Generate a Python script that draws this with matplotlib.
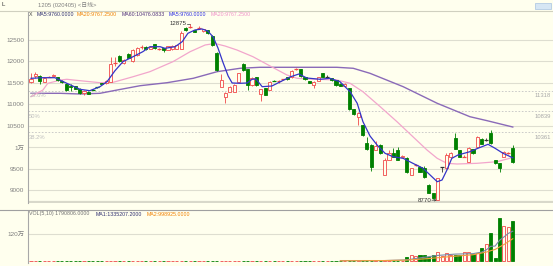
import matplotlib
matplotlib.use("Agg")
import matplotlib.pyplot as plt
import numpy as np
from matplotlib.lines import Line2D
from matplotlib.patches import Rectangle

plt.rcParams["font.family"] = ["Liberation Sans", "Noto Sans CJK SC"]

W, H = 553, 266
BG = "#FFFFEE"
RED = "#F04848"
GREEN = "#008000"
DOJI = "#333333"
GRID = "#DEDED0"

# --- daily candles ---
opens = [
    11520, 11660, 11660, 11530, 11640, 11670, 11640, 11545, 11480, 11420,
    11430, 11360, 11260, 11300, 11345, 11405, 11495, 11490, 11530, 11960,
    12135, 11965, 12175, 12000, 12150, 12325, 12345, 12300, 12400, 12285,
    12310, 12270, 12280, 12300, 12285, 12770, 12800, 12730, 12770, 12700,
    12730, 12600, 12190, 11415, 11180, 11300, 11300, 11530, 11940, 11820,
    11455, 11630, 11245, 11375, 11340, 11555, 11530, 11580, 11630, 11630,
    11815, 11820, 11630, 11545, 11450, 11550, 11725, 11650, 11610, 11570,
    11480, 11440, 11375, 10890, 10700, 10520, 10100, 10060, 9940, 10060,
    9360, 9710, 9865, 9940, 9780, 9750, 9360, 9590, 9555, 9515,
    9130, 8935, 8780, 9540, 9515, 9785, 10230, 9940, 9780, 9670,
    9965, 10015, 10200, 10170, 10345, 9710, 9630, 9785, 9860, 9980]
closes = [
    11600, 11720, 11550, 11610, 11650, 11690, 11560, 11520, 11340, 11400,
    11370, 11270, 11320, 11250, 11335, 11395, 11480, 11545, 11935, 11970,
    12020, 12035, 12090, 12270, 12310, 12335, 12290, 12340, 12310, 12295,
    12260, 12360, 12370, 12380, 12655, 12730, 12810, 12695, 12780, 12750,
    12655, 12385, 11800, 11570, 11260, 11415, 11455, 11725, 11800, 11455,
    11610, 11455, 11350, 11220, 11530, 11545, 11540, 11590, 11585, 11790,
    11825, 11665, 11585, 11500, 11530, 11640, 11650, 11650, 11560, 11455,
    11430, 11480, 10890, 10780, 10810, 10290, 9960, 9550, 10035, 9865,
    9710, 9865, 9785, 9710, 9810, 9440, 9520, 9600, 9440, 9320,
    8950, 8820, 9290, 9540, 9825, 9880, 9970, 9785, 9790, 9980,
    9865, 10250, 10080, 10170, 10100, 9630, 9515, 9900, 9870, 9670]
highs = [
    11730, 11760, 11680, 11630, 11670, 11710, 11650, 11560, 11500, 11470,
    11440, 11380, 11340, 11310, 11350, 11410, 11500, 11560, 12110, 12100,
    12150, 12060, 12190, 12290, 12330, 12380, 12360, 12350, 12410, 12320,
    12320, 12370, 12380, 12390, 12700, 12800, 12875, 12740, 12820, 12760,
    12740, 12620, 12220, 11710, 11280, 11430, 11470, 11740, 11960, 11830,
    11630, 11640, 11370, 11390, 11550, 11580, 11560, 11600, 11640, 11800,
    11850, 11830, 11640, 11550, 11540, 11650, 11740, 11680, 11620, 11580,
    11490, 11490, 11390, 10900, 10830, 10530, 10250, 10070, 10140, 10070,
    9760, 9940, 9980, 10010, 9820, 9790, 9530, 9610, 9565, 9570,
    9140, 8940, 9300, 9540, 9870, 9890, 10330, 9950, 9830, 10000,
    9975, 10270, 10210, 10230, 10400, 9720, 9640, 9920, 9900, 10060]
lows = [
    11500, 11620, 11480, 11520, 11630, 11660, 11540, 11510, 11320, 11320,
    11350, 11250, 11220, 11240, 11330, 11390, 11475, 11480, 11520, 11900,
    11980, 11950, 12080, 11980, 12130, 12300, 12270, 12290, 12300, 12270,
    12220, 12260, 12270, 12290, 12280, 12720, 12780, 12680, 12760, 12690,
    12640, 12360, 11780, 11400, 11040, 11280, 11290, 11520, 11790, 11340,
    11440, 11440, 11090, 11210, 11330, 11540, 11500, 11570, 11575, 11620,
    11800, 11650, 11570, 11490, 11390, 11540, 11640, 11630, 11550, 11440,
    11420, 11430, 10870, 10760, 10530, 10270, 9940, 9450, 9930, 9850,
    9350, 9700, 9770, 9700, 9770, 9400, 9350, 9580, 9430, 9300,
    8940, 8810, 8770, 9420, 9505, 9775, 9960, 9770, 9770, 9660,
    9855, 10005, 10070, 10150, 10090, 9620, 9440, 9770, 9850, 9650]

# volume in 万
volumes = [
    1.5, 1.5, 1.5, 1.5, 1.5, 1.5, 1.5, 1.5, 1.5, 1.5,
    1.5, 1.5, 1.5, 1.5, 1.5, 1.5, 1.5, 1.5, 1.5, 1.5,
    1.5, 1.5, 1.5, 1.5, 1.5, 1.5, 1.5, 1.5, 1.5, 1.5,
    1.5, 1.5, 1.5, 1.5, 1.5, 1.5, 1.5, 1.5, 1.5, 1.5,
    1.5, 1.5, 1.5, 1.5, 1.5, 1.5, 1.5, 1.5, 1.5, 1.5,
    1.5, 1.5, 1.5, 1.5, 1.5, 1.5, 1.5, 1.5, 1.5, 1.5,
    1.5, 1.5, 1.5, 1.5, 1.5, 1.5, 1.5, 1.5, 1.5, 1.5,
    1.5, 1.5, 1.5, 1.5, 3.0, 1.5, 1.5, 1.5, 3.0, 1.5,
    3.0, 1.5, 1.5, 1.5, 1.5, 18, 29, 21, 25, 25,
    16, 25, 41, 23, 35, 29, 29, 29, 39, 39,
    32, 35, 57, 75, 125, 13, 195, 158, 155, 179]

# moving averages read at sample candles
ma5_idx = [0, 2.7, 5.4, 8.1, 11.1, 13.3, 15.6, 17.2, 19, 20.8, 23.1, 25.3, 26.9,
           29.2, 30.3, 32.6, 34.2, 35.5, 37.1, 38.7, 40, 41.2, 42.3, 43.4, 44.6,
           45.5, 47.3, 48.9, 50, 50.9, 52.3, 54.5, 56.3, 58.6, 60.6, 62.4, 65.4,
           67.6, 69.9, 72.2, 73.8, 75.1, 76.7, 78.3, 80.1, 81.9, 84.2, 86.4,
           88.7, 90.3, 91.9, 93, 94.1, 95.2, 96.6, 99.3, 101.1, 103.4, 105,
           106.8, 109]
ma5_val = [11609, 11623, 11623, 11493, 11353, 11321, 11414, 11530, 11786, 11995,
           12112, 12228, 12344, 12344, 12307, 12344, 12460, 12656, 12733, 12756,
           12709, 12570, 12314, 11988, 11663, 11500, 11493, 11500, 11586, 11593,
           11414, 11430, 11523, 11640, 11709, 11616, 11586, 11609, 11530, 11297,
           11028, 10600, 10267, 10058, 9865, 9786, 9748, 9632, 9516, 9360, 9204,
           9244, 9476, 9748, 9825, 9902, 9981, 10074, 9981, 9865, 9760]
ma20_idx = [0, 2.7, 3.8, 6.8, 8.1, 11.8, 15.6, 18.6, 23.1, 26.9, 32.1, 36, 39.4,
            41.6, 43.9, 46.6, 50.2, 54.1, 57.9, 60.2, 63.1, 69.2, 72.2, 75.1, 79,
            82.8, 86.4, 89.6, 91.9, 94.1, 96.4, 100.9, 105.4, 109]
ma20_val = [11181, 11337, 11493, 11570, 11586, 11546, 11507, 11516, 11646, 11763,
            11995, 12228, 12384, 12419, 12360, 12267, 12112, 11895, 11686, 11609,
            11593, 11570, 11493, 11297, 10949, 10600, 10251, 9941, 9748, 9632,
            9616, 9632, 9669, 9767]
ma60_idx = [0, 6.6, 11.1, 15.6, 19.5, 24.7, 30.8, 36.7, 42.1, 47.3, 51.8, 60.9,
            69.2, 72.9, 76.7, 84.2, 91.9, 99.3, 103.2, 109]
ma60_val = [11260, 11260, 11244, 11260, 11337, 11437, 11507, 11609, 11763, 11842,
            11865, 11865, 11865, 11842, 11725, 11414, 11028, 10716, 10623, 10476]

vma1_idx = [70, 80, 85, 88, 92, 96, 100, 102, 103, 104, 105, 106, 107, 108, 109]
vma1_val = [2, 2, 5, 14, 25, 31, 33, 40, 50, 66, 67, 93, 108, 124, 134]
vma2_idx = [70, 80, 85, 90, 95, 100, 103, 105, 107, 109]
vma2_val = [1, 2, 4, 11, 20, 28, 40, 52, 74, 100]

price_ticks = [9000, 9500, 10000, 10500, 11000, 11500, 12000, 12500]
price_labels = ["9000", "9500", "1万", "10500", "11000", "11500", "12000", "12500"]
fib_levels = [11318, 10839, 10361]
fib_pct = ["23.6%", "50%", "38.2%"]


def px_axes(fig, x0, y0, x1, y1):
    return fig.add_axes([x0 / W, 1 - y1 / H, (x1 - x0) / W, (y1 - y0) / H])


def style(ax):
    ax.set_facecolor(BG)
    for s in ("top", "right", "bottom"):
        ax.spines[s].set_visible(False)
    ax.spines["left"].set_color("#A8A8A8")
    ax.spines["left"].set_linewidth(0.8)
    ax.set_xticks([])
    ax.tick_params(axis="y", length=0, pad=2.5, labelsize=4.6, labelcolor="#808080")


fig = plt.figure(figsize=(W / 100, H / 100), dpi=100, facecolor=BG)

# ---------------- price panel ----------------
ax = px_axes(fig, 28, 12, 553, 203)
style(ax)
n = len(opens)
ax.set_xlim(-0.68, 118.1)
ax.set_ylim(8709, 13151)
ax.set_yticks(price_ticks)
ax.set_yticklabels(price_labels)
for v in price_ticks:
    ax.axhline(v, color=GRID, lw=0.8, zorder=0)
ax.axhline(8735, color="#D8D8CA", lw=1.6, zorder=0)
for v, p in zip(fib_levels, fib_pct):
    ax.axhline(v, color="#C4C4C4", lw=0.6, ls=(0, (2, 2)), zorder=0)
    ax.text(-0.4, v - 60, p, fontsize=4.2, color="#BEBEBE", va="top", ha="left")
    ax.text(117.7, v - 60, str(v), fontsize=4.2, color="#A8A8A8", va="top", ha="right")

w = 0.7
for i in range(n):
    o, c, h, l = opens[i], closes[i], highs[i], lows[i]
    col = DOJI if o == c else (RED if c > o else GREEN)
    top, bot = max(o, c), min(o, c)
    if top - bot < 15:
        ax.vlines(i, l, h, color=col, lw=0.6, zorder=3)
        ax.hlines((o + c) / 2, i - 0.45, i + 0.45, color=col, lw=0.9, zorder=3)
    elif c > o:
        ax.vlines(i, top, h, color=col, lw=0.6, zorder=3)
        ax.vlines(i, l, bot, color=col, lw=0.6, zorder=3)
        ax.add_patch(Rectangle((i - w / 2, bot), w, top - bot, facecolor=BG,
                               edgecolor=col, lw=0.6, zorder=3))
    else:
        ax.vlines(i, l, h, color=col, lw=0.6, zorder=3)
        ax.add_patch(Rectangle((i - w / 2, bot), w, top - bot, facecolor=col,
                               edgecolor=col, lw=0.6, zorder=3))

ax.plot(ma60_idx, ma60_val, color="#8A6AB8", lw=1.0, zorder=2)
ax.plot(ma20_idx, ma20_val, color="#F2A6CC", lw=0.9, zorder=2)
ax.plot(ma5_idx, ma5_val, color="#3434C8", lw=0.9, zorder=4)

ax.text(35.2, 12875, "12875", fontsize=4.4, color="#333333", ha="right", va="center")
ax.plot([35.2, 35.9], [12875, 12875], color="#333333", lw=0.5)
ax.text(90.6, 8775, "8770", fontsize=4.4, color="#333333", ha="right", va="center")
ax.annotate("", xy=(91.8, 8775), xytext=(90.7, 8775),
            arrowprops=dict(arrowstyle="->", lw=0.5, color="#333333",
                            shrinkA=0, shrinkB=0, mutation_scale=3))

# ---------------- volume panel ----------------
vx = px_axes(fig, 28, 211, 553, 263)
style(vx)
vx.set_xlim(-0.68, 118.1)
vx.set_ylim(-9, 224.7)
vx.set_yticks([120])
vx.set_yticklabels(["120万"])
vx.axhline(120, color=GRID, lw=0.8, zorder=0)
for i in range(n):
    o, c = opens[i], closes[i]
    up = c >= o
    col = RED if up else GREEN
    vx.add_patch(Rectangle((i - w / 2, 0), w, volumes[i],
                           facecolor=BG if up else col, edgecolor=col, lw=0.6, zorder=3))
vx.plot(vma1_idx, vma1_val, color="#7A8AA8", lw=0.8, zorder=4)
vx.plot(vma2_idx, vma2_val, color="#F0A040", lw=0.8, zorder=4)

# ---------------- frame, header texts ----------------
fig.add_artist(Line2D([0, 1], [1 - 11 / H, 1 - 11 / H], color="#D0D0C0", lw=0.8))
fig.add_artist(Line2D([0, 1], [1 - 210 / H, 1 - 210 / H], color="#A0A0A0", lw=0.8))
fig.add_artist(Rectangle((535 / W, 1 - 9 / H), 16 / W, 6 / H, transform=fig.transFigure,
                         facecolor="#D6E6F4", edgecolor="#A8C4E0", lw=0.5))


def ftext(x, y, s, color, size=3.8):
    fig.text(x / W, 1 - y / H, s, color=color, fontsize=size, va="center", ha="left")


ftext(2, 5, "L", "#333333", 4.4)
ftext(38, 5, "1205 (020405) <日线>", "#808080", 4.2)
ftext(29, 15, "X", "#404040")
ftext(37, 15, "MA5:9760.0000", "#303070")
ftext(77, 15, "MA20:9767.2500", "#F08000")
ftext(122, 15, "MA60:10476.0833", "#50307A")
ftext(169, 15, "MA5:9760.0000", "#2C2CE0")
ftext(211, 15, "MA20:9767.2500", "#F090C8")
ftext(29, 214, "VOL(5,10) 1790806.0000", "#707070")
ftext(96, 214, "MA1:1335207.2000", "#303070")
ftext(147, 214, "MA2:998925.0000", "#F08000")

fig.savefig("out.png", dpi=100, facecolor=BG)
